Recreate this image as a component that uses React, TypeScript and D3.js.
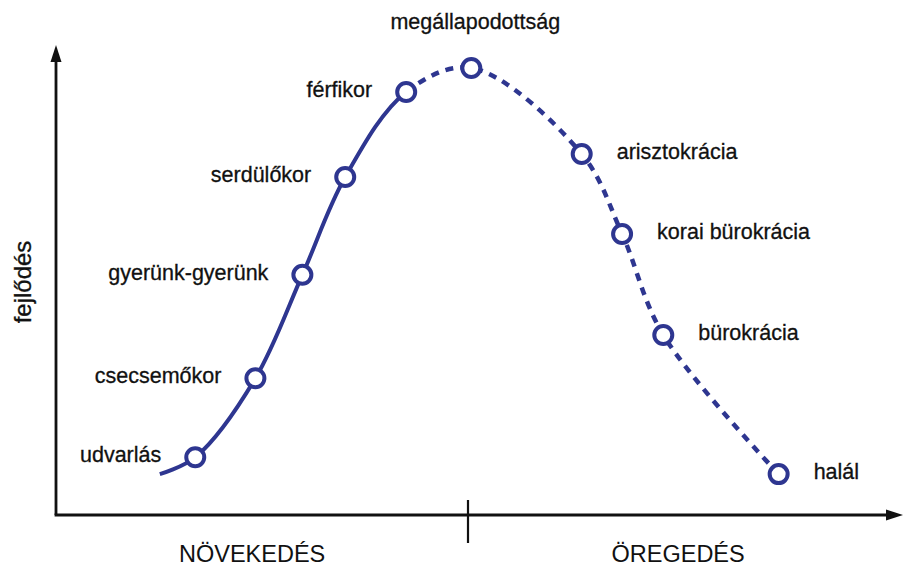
import React, { useEffect, useRef } from "react";
import * as d3 from "d3";

// Stages of the life cycle: label, position along time (0-10) and level of development (0-10)
const stageLabels = [
  "",
  "udvarlás",
  "csecsemőkor",
  "gyerünk-gyerünk",
  "serdülőkor",
  "férfikor",
  "megállapodottság",
  "arisztokrácia",
  "korai bürokrácia",
  "bürokrácia",
  "halál",
];
const stageTime = [1.26, 1.69, 2.42, 2.99, 3.51, 4.25, 5.04, 6.38, 6.87, 7.37, 8.77];
const stageLevel = [0.87, 1.23, 2.91, 5.11, 7.19, 9.0, 9.51, 7.68, 5.98, 3.83, 0.87];
// where the label sits relative to its marker
const labelSide = ["", "left", "left", "left", "left", "left", "top", "right", "right", "right", "right"];

const phaseLabels = ["NÖVEKEDÉS", "ÖREGEDÉS"];
const phaseCenters = [2.38, 7.55];
const phaseSplit = 5;
const peakIndex = 5; // solid line up to "férfikor", dashed afterwards

const App: React.FC = () => {
  const svgRef = useRef<SVGSVGElement>(null);

  useEffect(() => {
    if (!svgRef.current) return;
    const width = 903;
    const height = 572;
    const blue = "#2e3690";
    const ink = "#111";
    const font = "'Liberation Sans', Arial, sans-serif";

    const svg = d3.select(svgRef.current);
    svg.selectAll("*").remove();
    svg.attr("width", width).attr("height", height);

    const x = d3.scaleLinear().domain([0, 10]).range([56, 880]);
    const y = d3.scaleLinear().domain([0, 10]).range([515, 45]);

    const pts = stageTime.map((t, i) => ({ t, v: stageLevel[i], label: stageLabels[i], side: labelSide[i] }));

    // Clip regions for the solid and dashed parts of the curve
    const defs = svg.append("defs");
    defs
      .append("clipPath")
      .attr("id", "solidPart")
      .append("rect")
      .attr("x", 0)
      .attr("y", 0)
      .attr("width", x(stageTime[peakIndex]))
      .attr("height", height);
    defs
      .append("clipPath")
      .attr("id", "dashedPart")
      .append("rect")
      .attr("x", x(stageTime[peakIndex]))
      .attr("y", 0)
      .attr("width", width)
      .attr("height", height);

    // Axes
    const x0 = x(0);
    const y0 = y(0);
    svg
      .append("line")
      .attr("x1", x0)
      .attr("y1", y0)
      .attr("x2", x0)
      .attr("y2", y(10) + 12)
      .attr("stroke", ink)
      .attr("stroke-width", 2.8);
    svg
      .append("path")
      .attr("d", `M${x0},${y(10)} L${x0 - 5.5},${y(10) + 17} L${x0 + 5.5},${y(10) + 17} Z`)
      .attr("fill", ink);
    svg
      .append("line")
      .attr("x1", x0 - 1.4)
      .attr("y1", y0)
      .attr("x2", width - 12)
      .attr("y2", y0)
      .attr("stroke", ink)
      .attr("stroke-width", 2.8);
    svg
      .append("path")
      .attr("d", `M${width},${y0} L${width - 17},${y0 - 5.5} L${width - 17},${y0 + 5.5} Z`)
      .attr("fill", ink);

    // Tick separating the two phases
    svg
      .append("line")
      .attr("x1", x(phaseSplit))
      .attr("x2", x(phaseSplit))
      .attr("y1", y0 - 15)
      .attr("y2", y0 + 28)
      .attr("stroke", ink)
      .attr("stroke-width", 2.2);

    svg
      .selectAll("text.phase")
      .data(phaseLabels)
      .enter()
      .append("text")
      .attr("class", "phase")
      .attr("x", (_, i) => x(phaseCenters[i]))
      .attr("y", y0 + 39)
      .attr("text-anchor", "middle")
      .attr("dominant-baseline", "central")
      .style("font-family", font)
      .style("font-size", "23.5px")
      .attr("fill", ink)
      .text((d) => d);

    svg
      .append("text")
      .attr("transform", `translate(22, 282) rotate(-90)`)
      .attr("text-anchor", "middle")
      .attr("dominant-baseline", "central")
      .style("font-family", font)
      .style("font-size", "24px")
      .attr("fill", ink)
      .attr("stroke", ink)
      .attr("stroke-width", 0.3)
      .text("fejlődés");

    // Curve
    const line = d3
      .line<(typeof pts)[number]>()
      .x((d) => x(d.t))
      .y((d) => y(d.v))
      .curve(d3.curveCatmullRom.alpha(0.5));

    svg
      .append("path")
      .attr("d", line(pts))
      .attr("fill", "none")
      .attr("stroke", blue)
      .attr("stroke-width", 4)
      .attr("clip-path", "url(#solidPart)");
    svg
      .append("path")
      .attr("d", line(pts))
      .attr("fill", "none")
      .attr("stroke", blue)
      .attr("stroke-width", 4.5)
      .attr("stroke-dasharray", "8 7")
      .attr("clip-path", "url(#dashedPart)");

    // Markers
    const stages = pts.filter((d) => d.label);
    svg
      .selectAll("circle")
      .data(stages)
      .enter()
      .append("circle")
      .attr("cx", (d) => x(d.t))
      .attr("cy", (d) => y(d.v))
      .attr("r", 9)
      .attr("fill", "white")
      .attr("stroke", blue)
      .attr("stroke-width", 4);

    svg
      .selectAll("text.stage")
      .data(stages)
      .enter()
      .append("text")
      .attr("class", "stage")
      .attr("x", (d) => (d.side === "left" ? x(d.t) - 34 : d.side === "right" ? x(d.t) + 35 : x(d.t) + 4))
      .attr("y", (d) => (d.side === "top" ? y(d.v) - 46 : y(d.v) - 2))
      .attr("text-anchor", (d) => (d.side === "left" ? "end" : d.side === "right" ? "start" : "middle"))
      .attr("dominant-baseline", "central")
      .style("font-family", font)
      .style("font-size", "21.5px")
      .attr("fill", ink)
      .attr("stroke", ink)
      .attr("stroke-width", 0.3)
      .text((d) => d.label);
  }, []);

  return (
    <div style={{ position: "fixed", left: 0, top: 0, width: 903, height: 572, background: "white" }}>
      <svg ref={svgRef} style={{ display: "block" }}></svg>
    </div>
  );
};

export default App;
